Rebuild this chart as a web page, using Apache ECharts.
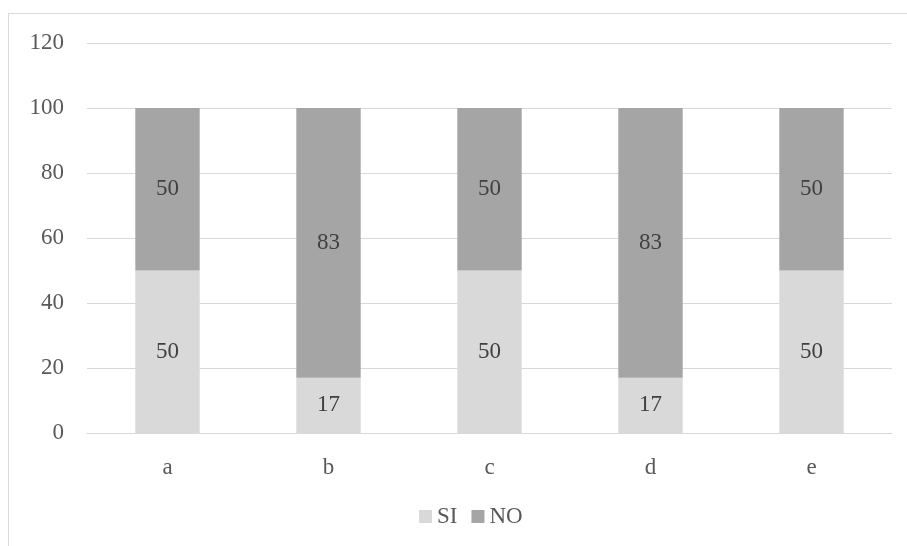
<!DOCTYPE html>
<html>
<head>
<meta charset="utf-8">
<script src="https://cdn.jsdelivr.net/npm/echarts@6/dist/echarts.min.js"></script>
<style>
html,body{margin:0;padding:0;background:#fff;}
#frame{position:absolute;left:8px;top:13px;width:920px;height:560px;border:1px solid #d9d9d9;box-sizing:border-box;}
#chart{position:absolute;left:0;top:0;width:907px;height:546px;}
</style>
</head>
<body>
<div id="frame"></div>
<div id="chart"></div>
<script>
const categories = ['a', 'b', 'c', 'd', 'e'];
const siValues = [50, 17, 50, 17, 50];
const noValues = [50, 83, 50, 83, 50];
const yTicks = { min: 0, max: 120, interval: 20 };

const FONT = '"Liberation Serif", "DejaVu Serif", serif';
const FONT_SIZE = 23;
const chart = echarts.init(document.getElementById('chart'), null, { renderer: 'canvas' });

const labelStyle = {
  show: true,
  position: 'inside',
  color: '#404040',
  fontFamily: FONT,
  fontSize: FONT_SIZE
};

chart.setOption({
  animation: false,
  backgroundColor: 'transparent',
  grid: { left: 87, right: 15, top: 43, bottom: 113, containLabel: false },
  legend: {
    bottom: 13,
    left: 414,
    itemWidth: 13,
    itemHeight: 13,
    itemGap: 14,
    icon: 'rect',
    textStyle: { color: '#595959', fontFamily: FONT, fontSize: FONT_SIZE },
    data: ['SI', 'NO']
  },
  xAxis: {
    type: 'category',
    data: categories,
    axisLine: { show: true, lineStyle: { color: '#d9d9d9', width: 1 } },
    axisTick: { show: false },
    axisLabel: { color: '#595959', fontFamily: FONT, fontSize: FONT_SIZE, margin: 23 },
  },
  yAxis: {
    type: 'value',
    min: yTicks.min,
    max: yTicks.max,
    interval: yTicks.interval,
    axisLine: { show: false },
    axisTick: { show: false },
    axisLabel: { color: '#595959', fontFamily: FONT, fontSize: FONT_SIZE, margin: 23 },
    splitLine: { lineStyle: { color: '#d9d9d9', width: 1 } }
  },
  series: [
    {
      name: 'SI',
      type: 'bar',
      stack: 'total',
      barWidth: '40%',
      itemStyle: { color: '#d9d9d9' },
      label: labelStyle,
      data: siValues
    },
    {
      name: 'NO',
      type: 'bar',
      stack: 'total',
      barWidth: '40%',
      itemStyle: { color: '#a5a5a5' },
      label: labelStyle,
      data: noValues
    }
  ]
});
</script>
</body>
</html>
